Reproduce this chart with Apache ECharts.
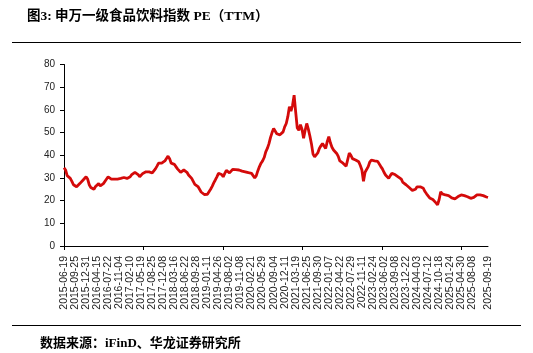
<!DOCTYPE html>
<html><head><meta charset="utf-8">
<script src="https://cdn.jsdelivr.net/npm/echarts@6/dist/echarts.min.js"></script>
<style>html,body{margin:0;padding:0;background:#fff}#c{width:533px;height:353px}</style>
</head><body><div id="c"></div>
<script>
const titleText = '图3: 申万一级食品饮料指数 PE（TTM）';
const sourceText = '数据来源：iFinD、华龙证券研究所';
const tickLabels = [
  '2015-06-19','2015-09-25','2015-12-31','2016-04-15','2016-07-22','2016-11-04','2017-02-10',
  '2017-05-19','2017-08-25','2017-12-08','2018-03-16','2018-06-22','2018-09-28','2019-01-11',
  '2019-04-26','2019-08-02','2019-11-08','2020-02-21','2020-05-29','2020-09-04','2020-12-11',
  '2021-03-19','2021-06-25','2021-09-30','2022-01-07','2022-04-22','2022-07-29','2022-11-11',
  '2023-02-24','2023-06-02','2023-09-08','2023-12-22','2024-04-03','2024-07-12','2024-10-18',
  '2025-01-24','2025-04-30','2025-08-08','2025-09-19'
];
const peValues = [
  34.5, 33.5, 31, 30.5, 29.8, 28.5, 27,
  26.5, 26.1, 26.5, 27.5, 28, 29, 29.3,
  30.5, 29.5, 27, 25.8, 25.2, 25, 26.2,
  27, 27.5, 26.5, 26.3, 27.5, 28.3, 29.5,
  30.5, 30.3, 29.5, 28.8, 29.5, 29.8, 29.5,
  29.8, 29.8, 30, 30.2, 30, 29.8, 30.3,
  30.5, 31.5, 32, 32.5, 32.7, 31.5, 30.5,
  31.3, 32, 32.2, 32.7, 32.5, 32.7, 32.5,
  32.2, 32.5, 34, 35.2, 36.5, 37, 36.5,
  35.7, 37.5, 38.6, 39.6, 38.5, 36.5, 36.8,
  36, 35, 34, 33.5, 32.5, 32, 33.5,
  34.2, 32.5, 31.3, 30.5, 29.8, 28.5, 27.2,
  26.5, 26.2, 25.5, 23.8, 23.2, 22.7, 22.5,
  22.8, 23.5, 25, 26.3, 27.8, 29.1, 30.5,
  32, 32.7, 31.5, 30.5, 32, 33.3, 33,
  32.2, 32.5, 33.8, 34.2, 33.7, 33.5, 33.5,
  33.5, 33, 32.7, 32.7, 32.7, 32.3, 32,
  32, 31.5, 30, 31, 33.2, 35, 36.5,
  37.5, 39, 41.5, 43, 45, 47.8, 50,
  51.8, 52.5, 49.5, 49, 49, 49.5, 50.3,
  52.5, 54, 57, 61.4, 59.5, 62, 66.5,
  59, 52, 51, 53.5, 51.5, 47.5, 51,
  54, 51.5, 48.5, 45, 40.5, 39.3, 39.8,
  41, 43, 44.2, 45.2, 44.5, 43, 46,
  48.2, 45.5, 43.5, 42.3, 41.5, 40.8, 39.5,
  37.5, 37, 36.5, 36, 35.2, 36, 41,
  40, 38.5, 38, 37.9, 37.5, 37.1, 35.5,
  33.5, 28.5, 32.5, 32, 35, 37, 37.9,
  37.8, 37.5, 37.5, 37.3, 36.5, 35, 34,
  32.5, 31.3, 30.5, 29.8, 31, 32, 32.7,
  31.5, 31, 30.5, 30, 29.5, 28, 27.5,
  27, 26.8, 25.8, 25.4, 24.5, 23.9, 25,
  26.1, 26.1, 26.1, 25.8, 25.4, 24, 23,
  22.3, 21.2, 20.8, 20.5, 20.3, 19, 18.1,
  20.5, 23.9, 23, 22.5, 22.5, 22.5, 22.2,
  21.7, 21.2, 20.6, 20.8, 21.3, 21.8, 22.3,
  22.5, 22.3, 22.2, 22, 21.7, 21.3, 21,
  21.2, 21.4, 22, 22.5, 22.5, 22.5, 22.4,
  22.2, 22.0, 21.6, 21.4
];
const yMin = 0, yMax = 80, yStep = 10;
const labelEvery = 7;      // points between labelled dates
const tickEvery = 50.4;    // points between major ticks

// build category list from tick labels
const categories = peValues.map(() => '');
for (let k = 0; k < tickLabels.length - 1; k++) {
  if (k * labelEvery < categories.length) categories[k * labelEvery] = tickLabels[k];
}
categories[categories.length - 1] = tickLabels[tickLabels.length - 1];

const chart = echarts.init(document.getElementById('c'), null, {renderer: 'canvas'});
const latin = "'Liberation Sans', Arial, sans-serif";
const titleFont = "'Liberation Serif', 'Noto Sans CJK SC', serif";
chart.setOption({
  animation: false,
  backgroundColor: '#fff',
  title: [
    {text: titleText, left: 27, top: 10, padding: 0,
     textStyle: {fontSize: 13.5, fontWeight: 'bold', color: '#000', fontFamily: titleFont}},
    {text: sourceText, left: 40, top: 337, padding: 0,
     textStyle: {fontSize: 13, fontWeight: 'bold', color: '#000', fontFamily: titleFont}}
  ],
  graphic: [
    {type: 'line', shape: {x1: 12, y1: 42.5, x2: 521, y2: 42.5}, style: {stroke: '#000', lineWidth: 1.2}},
    {type: 'line', shape: {x1: 12, y1: 325.5, x2: 521, y2: 325.5}, style: {stroke: '#000', lineWidth: 1.2}}
  ],
  grid: {left: 64, right: 45, top: 64.5, bottom: 107, containLabel: false, outerBoundsMode: 'none'},
  xAxis: {
    type: 'category',
    data: categories,
    boundaryGap: false,
    axisLine: {show: true, lineStyle: {color: '#000', width: 1}},
    axisTick: {
      show: true, length: 4, inside: false,
      lineStyle: {color: '#000'},
      interval: (i) => { const k = Math.round(i / tickEvery); return i === Math.round(k * tickEvery); }
    },
    axisLabel: {
      interval: (i, v) => v !== '',
      rotate: 90, margin: 10, fontSize: 10.5, color: '#222', fontFamily: latin
    },
    splitLine: {show: false}
  },
  yAxis: {
    type: 'value', min: yMin, max: yMax, interval: yStep,
    axisLine: {show: true, lineStyle: {color: '#000', width: 1}},
    axisTick: {show: true, length: 4, inside: false, lineStyle: {color: '#000'}},
    axisLabel: {fontSize: 10, color: '#222', margin: 9, fontFamily: latin},
    splitLine: {show: false}
  },
  series: [{
    type: 'line',
    data: peValues,
    symbol: 'none',
    smooth: false,
    lineStyle: {color: '#d40a0a', width: 2.8},
    itemStyle: {color: '#d40a0a'}
  }]
});
</script>
</body></html>
